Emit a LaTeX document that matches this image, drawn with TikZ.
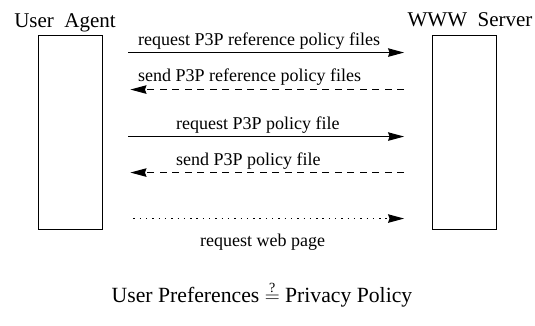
\documentclass[tikz,border=0pt]{standalone}
\usepackage{fontspec}
\setmainfont{Liberation Serif}
\usepackage{tikz}
\usetikzlibrary{arrows.meta,positioning,calc}
\tikzset{
  life/.style={draw, line width=0.9pt, minimum width=64pt, minimum height=194pt, inner sep=0pt},
  ttl/.style={font=\fontsize{21}{25}\selectfont, inner sep=0pt, anchor=base},
  lbl/.style={font=\fontsize{18}{21}\selectfont, inner sep=0pt, anchor=base west},
  msg/.style={-{Stealth[length=16pt, width=8.5pt, inset=1.5pt]}, line width=1pt},
  reply/.style={msg, dash pattern=on 7pt off 5.5pt},
  fetch/.style={msg, dash pattern=on 1.4pt off 4.9pt},
}
\newcommand{\qeq}{\mathrel{\stackrel{\hbox{\fontsize{14}{14}\selectfont ?}}{=}}}

\begin{document}
\begin{tikzpicture}[x=1pt,y=-1pt]
  \useasboundingbox (0,0) rectangle (535,325);
  % the two parties
  \node[life] (ua) at (70,132) {};
  \node[life] (ws) at (464.5,132) {};
  \node[ttl] (uat) at (65,27) {User\ \ Agent};
  \node[ttl] (wst) at (470,26) {WWW\ \ Server};
  % message ends, set off from the boxes
  \coordinate (r1a) at ($(ua.north east)+(26,18)$);
  \coordinate (r1b) at ($(ws.north west)+(-28,18)$);
  \coordinate (s1a) at ($(ua.north east)+(28,55)$);
  \coordinate (s1b) at ($(ws.north west)+(-28,55)$);
  \coordinate (r2a) at ($(ua.north east)+(26,102)$);
  \coordinate (r2b) at ($(ws.north west)+(-28,102)$);
  \coordinate (s2a) at ($(ua.north east)+(28,138)$);
  \coordinate (s2b) at ($(ws.north west)+(-28,138)$);
  \coordinate (r3a) at ($(ua.north east)+(31,184)$);
  \coordinate (r3b) at ($(ws.north west)+(-28,184)$);
  % messages
  \draw[msg] (r1a) -- (r1b);
  \draw[reply] (s1b) -- (s1a);
  \draw[msg] (r2a) -- (r2b);
  \draw[reply] (s2b) -- (s2a);
  \draw[fetch] (r3a) -- (r3b);
  \node[lbl] (l1) at (138,45) {request P3P reference policy files};
  \node[lbl] (l2) at (138,81) {send P3P reference policy files};
  \node[lbl] (l3) at (176,129) {request P3P policy file};
  \node[lbl] (l4) at (176,165) {send P3P policy file};
  \node[lbl] (l5) at (200,246) {request web page};
  % the check done by the agent
  \node[ttl, font=\fontsize{21.7}{26}\selectfont] (cmp) at (262,302)
    {User Preferences $\qeq$ Privacy Policy};
\end{tikzpicture}
\end{document}
